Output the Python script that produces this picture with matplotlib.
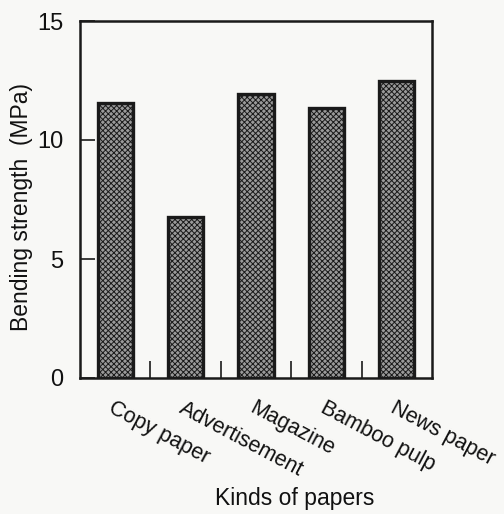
import matplotlib
matplotlib.use("Agg")
import matplotlib.pyplot as plt
import numpy as np

plt.rcParams['font.family'] = ['Liberation Sans', 'DejaVu Sans']
plt.rcParams['hatch.color'] = '#555555'
plt.rcParams['hatch.linewidth'] = 0.7

categories = ["Copy paper", "Advertisement", "Magazine", "Bamboo pulp", "News paper"]
strength = [11.55, 6.75, 11.95, 11.35, 12.5]
yticks = [0, 5, 10, 15]

bg = '#f8f8f6'
W, H = 504, 514
fig = plt.figure(figsize=(W/100, H/100), dpi=100, facecolor=bg)
ax = fig.add_axes([80/W, 1 - 378/H, (432-80)/W, (378-21)/H])
ax.set_facecolor(bg)

x = np.arange(len(categories))
ax.bar(x, strength, width=0.5, color='#9a9a9a', edgecolor='#1a1a1a',
       linewidth=2.4, hatch='xxxxxx', zorder=2)

ax.set_xlim(-0.5, 4.5)
ax.set_ylim(0, 15)
ax.set_yticks(yticks)
ax.set_yticklabels([str(v) for v in yticks], fontsize=17)
ax.tick_params(axis='y', direction='in', length=11, width=1.2, pad=12,
               colors='#1a1a1a', labelcolor='#111111')

# separators between categories along the bottom axis
ax.set_xticks(x[:-1] + 0.5, minor=True)
ax.tick_params(axis='x', which='minor', direction='in', length=12, width=1.2,
               colors='#1a1a1a')
ax.set_xticks(x)
ax.set_xticklabels(categories, fontsize=15.5, rotation=-28, ha='left',
                   rotation_mode='anchor', color='#111111')
ax.tick_params(axis='x', which='major', length=0, pad=14)

for s in ax.spines.values():
    s.set_linewidth(1.8)
    s.set_color('#1a1a1a')

fig.text(22/W, 1 - 207/H, "Bending strength  (MPa)", rotation=90,
         ha='center', va='center', fontsize=16.5, color='#111111')
fig.text(295/W, 1 - 505/H, "Kinds of papers", ha='center', va='baseline',
         fontsize=16.5, color='#111111')

fig.savefig("out.png", dpi=100, facecolor=bg)
